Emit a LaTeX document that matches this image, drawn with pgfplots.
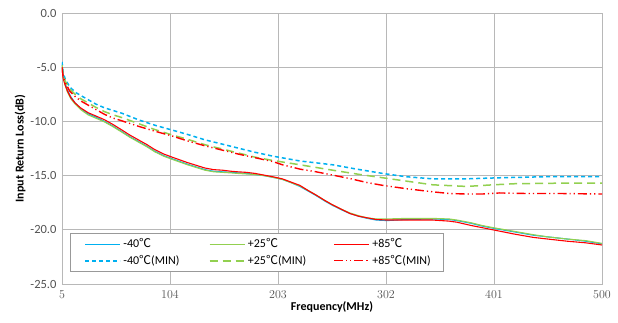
\documentclass[border=0pt]{standalone}
\usepackage{fontspec}
\setmainfont{Carlito}
\newfontfamily\cjk{Noto Sans CJK SC}
\usepackage{pgfplots}
\pgfplotsset{compat=1.18}
\newcommand{\degC}{{\cjk ℃}}
\definecolor{cblue}{RGB}{0,176,240}
\definecolor{cgreen}{RGB}{146,208,80}
\definecolor{cred}{RGB}{255,0,0}

% measured return loss, solid = typical, MIN = worst case
\pgfplotstableread{
x y
5 -4.6
6 -5.7
7.7 -6.4
10 -7.1
13 -7.7
17 -8.3
22 -8.8
29 -9.3
36 -9.6
44 -10.0
52 -10.45
60 -10.95
67 -11.4
75 -11.85
83 -12.3
90 -12.75
98 -13.15
106 -13.45
113 -13.7
120 -13.95
128 -14.2
136 -14.45
144 -14.6
152 -14.65
160 -14.7
166 -14.75
174 -14.8
182 -14.9
190 -15.0
198 -15.15
207 -15.35
215 -15.65
223 -16.0
231 -16.45
238 -16.85
246 -17.35
253 -17.75
261 -18.15
269 -18.5
277 -18.75
285 -18.95
293 -19.1
303 -19.15
320 -19.05
345 -19.0
360 -19.05
367 -19.15
380 -19.4
390 -19.65
400 -19.85
420 -20.2
437 -20.5
450 -20.65
468 -20.85
485 -21.05
500 -21.3
}\blueT
\pgfplotstableread{
x y
5 -4.8
6 -5.8
7.7 -6.6
10 -7.3
13 -7.9
17 -8.4
22 -8.9
29 -9.4
36 -9.7
44 -10.05
52 -10.5
60 -11.0
67 -11.45
75 -11.9
83 -12.35
90 -12.8
98 -13.2
106 -13.5
113 -13.75
120 -14.0
128 -14.25
136 -14.5
144 -14.65
152 -14.7
160 -14.75
166 -14.8
174 -14.85
182 -14.9
190 -15.0
198 -15.15
207 -15.35
215 -15.65
223 -15.95
231 -16.4
238 -16.8
246 -17.3
253 -17.7
261 -18.1
269 -18.45
277 -18.7
285 -18.9
293 -19.0
303 -19.0
320 -18.95
345 -18.95
360 -19.0
367 -19.1
380 -19.35
390 -19.6
400 -19.8
420 -20.15
437 -20.45
450 -20.65
468 -20.85
485 -21.0
500 -21.25
}\greenT
\pgfplotstableread{
x y
5 -5.0
6 -6.0
7.7 -6.6
10 -7.2
13 -7.8
17 -8.3
22 -8.75
29 -9.2
36 -9.5
44 -9.85
52 -10.3
60 -10.8
67 -11.25
75 -11.7
83 -12.15
90 -12.6
98 -13.0
106 -13.3
113 -13.55
120 -13.8
128 -14.05
136 -14.3
144 -14.45
152 -14.5
160 -14.6
166 -14.65
174 -14.7
182 -14.8
190 -14.95
198 -15.1
207 -15.3
215 -15.6
223 -15.9
231 -16.4
238 -16.8
246 -17.3
253 -17.7
261 -18.1
269 -18.5
277 -18.75
285 -18.9
293 -19.05
303 -19.1
320 -19.1
345 -19.1
360 -19.2
367 -19.3
380 -19.6
390 -19.8
400 -20.0
420 -20.4
437 -20.7
450 -20.85
468 -21.05
485 -21.2
500 -21.4
}\redT
\pgfplotstableread{
x y
5 -4.5
6 -5.5
8 -6.1
12 -6.8
17 -7.3
22 -7.6
29 -8.0
36 -8.4
44 -8.75
52 -9.0
60 -9.25
75 -9.85
90 -10.35
106 -10.8
120 -11.2
136 -11.7
152 -12.1
166 -12.45
182 -12.85
198 -13.2
223 -13.65
253 -14.0
275 -14.4
299 -14.8
320 -15.1
345 -15.3
376 -15.3
406 -15.2
450 -15.1
500 -15.1
}\blueM
\pgfplotstableread{
x y
5 -4.8
6 -5.7
8 -6.3
12 -7.0
17 -7.5
22 -7.9
29 -8.3
36 -8.7
44 -9.1
52 -9.4
60 -9.65
75 -10.2
90 -10.75
106 -11.25
120 -11.65
136 -12.15
152 -12.55
166 -12.9
182 -13.3
198 -13.6
223 -14.0
253 -14.5
275 -14.85
299 -15.2
320 -15.5
345 -15.85
376 -16.0
400 -15.85
420 -15.75
460 -15.7
500 -15.7
}\greenM
\pgfplotstableread{
x y
5 -5.0
6 -5.8
8 -6.4
12 -7.2
17 -7.7
22 -8.1
29 -8.5
36 -8.9
44 -9.35
52 -9.7
60 -9.95
75 -10.45
90 -10.9
106 -11.35
120 -11.8
136 -12.25
152 -12.65
166 -13.0
182 -13.35
198 -13.7
207 -14.0
223 -14.4
238 -14.65
253 -14.95
270 -15.3
285 -15.65
299 -15.9
320 -16.2
345 -16.5
360 -16.65
376 -16.7
390 -16.7
406 -16.6
430 -16.65
460 -16.65
500 -16.7
}\redM

\begin{document}
\begin{tikzpicture}[x=1pt,y=1pt]
\useasboundingbox (-62,-38) rectangle (556,284);
\begin{axis}[
  at={(0,0)}, anchor=south west,
  scale only axis, width=540pt, height=271pt,
  xmin=5, xmax=500, ymin=-25, ymax=0,
  xtick={5,104,203,302,401,500},
  ytick={-25,-20,-15,-10,-5,0},
  yticklabels={-25.0,-20.0,-15.0,-10.0,-5.0,0.0},
  major tick length=0pt,
  grid=major,
  grid style={draw=black!28, line width=0.8pt},
  axis line style={draw=black!28, line width=0.8pt},
  tick label style={font=\fontsize{12.5}{14}\selectfont, text=black!68},
  xticklabel style={yshift=-3pt},
  yticklabel style={xshift=-2pt},
  xlabel={\textbf{Frequency(MHz)}},
  ylabel={\textbf{Input Return Loss(dB)}},
  label style={font=\fontsize{12}{14}\selectfont},
  xlabel style={yshift=4pt},
  ylabel style={yshift=-2pt},
  legend columns=3,
  legend style={at={(0.0148,0.0443)}, anchor=south west,
    draw=black!40, fill=white, line width=0.8pt,
    font=\fontsize{12}{14}\selectfont,
    inner xsep=14pt, inner ysep=4pt,
    nodes={inner sep=1.5pt},
    row sep=3pt,
    /tikz/every odd column/.append style={column sep=1pt},
    /tikz/every even column/.append style={column sep=28pt}},
  legend cell align=left,
  legend image code/.code={\draw[#1] (0pt,0pt) -- (35pt,0pt);},
  every axis plot/.append style={line join=round},
]
\addplot[cblue, line width=1.1pt] table[x=x,y=y] {\blueT};
\addlegendentry{\makebox[56pt][l]{-40\degC}}
\addplot[cgreen, line width=1.1pt] table[x=x,y=y] {\greenT};
\addlegendentry{\makebox[56pt][l]{+25\degC}}
\addplot[cred, line width=1.1pt] table[x=x,y=y] {\redT};
\addlegendentry{\makebox[56pt][l]{+85\degC}}
\addplot[cblue, line width=1.5pt, dash pattern=on 4pt off 3pt] table[x=x,y=y] {\blueM};
\addlegendentry{\makebox[56pt][l]{-40\degC(MIN)}}
\addplot[cgreen, line width=1.5pt, dash pattern=on 8pt off 5pt] table[x=x,y=y] {\greenM};
\addlegendentry{\makebox[56pt][l]{+25\degC(MIN)}}
\addplot[cred, line width=1.4pt, dash pattern=on 9pt off 3pt on 1.2pt off 3pt on 1.2pt off 3pt] table[x=x,y=y] {\redM};
\addlegendentry{\makebox[56pt][l]{+85\degC(MIN)}}
\end{axis}
\end{tikzpicture}
\end{document}
